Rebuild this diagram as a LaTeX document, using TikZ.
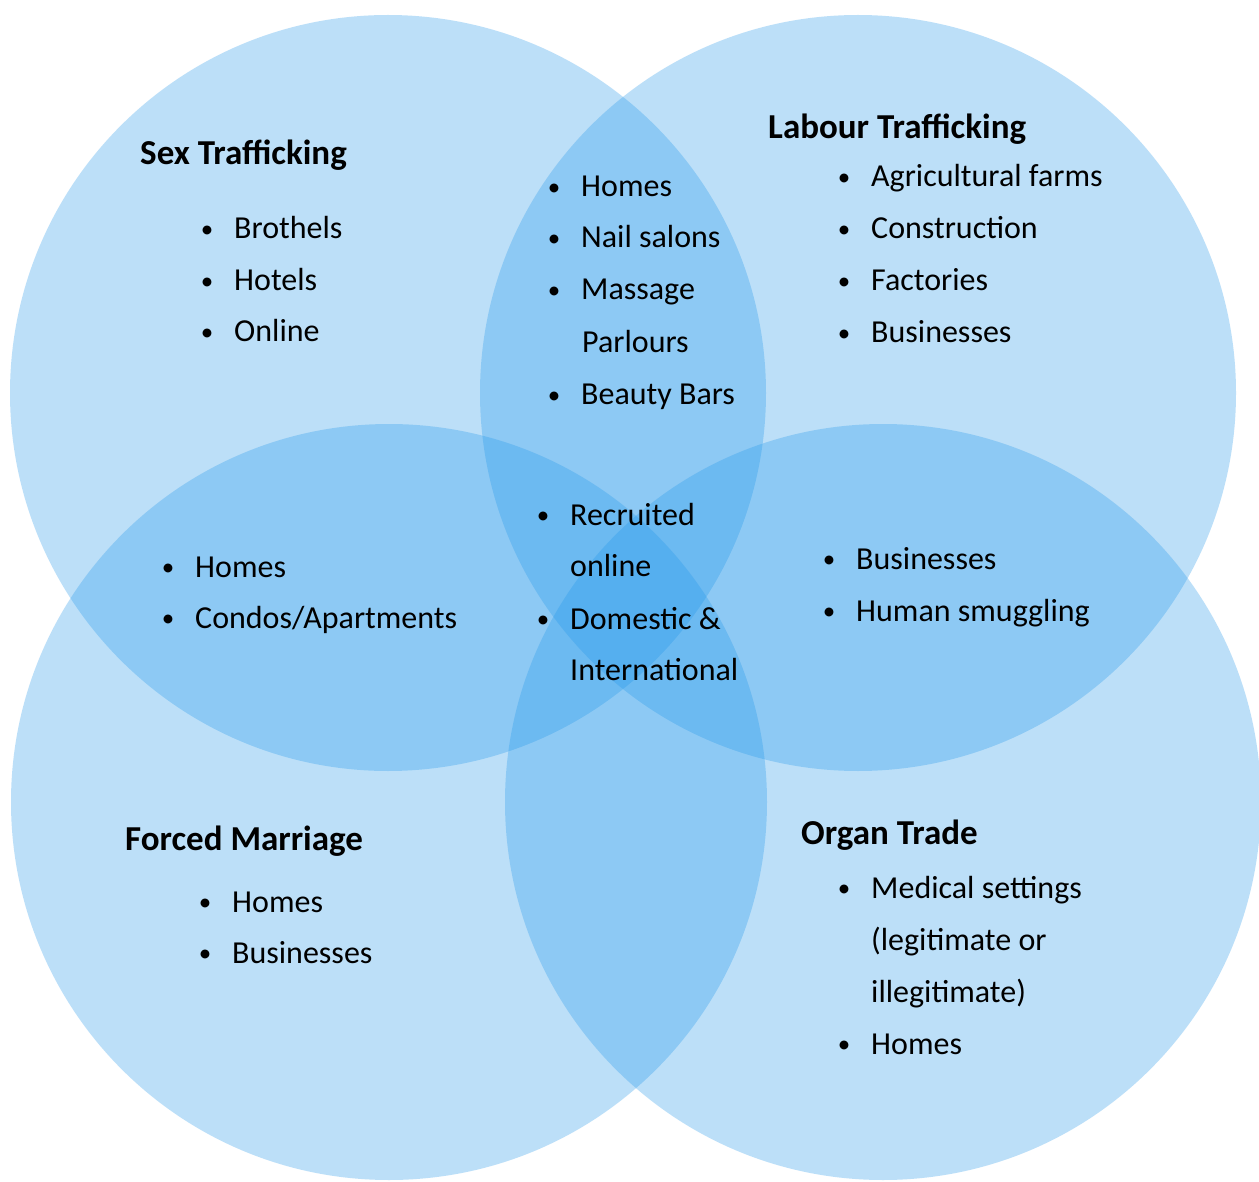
\documentclass[tikz,border=0pt]{standalone}
\usepackage{fontspec}
\setmainfont{Carlito}
\definecolor{vennblue}{RGB}{35,152,235}
% bullet centred 27pt to the left of the item text
\newcommand{\itemdot}{\llap{\makebox[0pt]{\fontsize{25}{30}\selectfont\raisebox{1.5pt}{•}}\hspace{27pt}}}
\begin{document}
\begin{tikzpicture}[x=1pt,y=-1pt,
  set/.style={fill=vennblue, fill opacity=0.3, draw=none},
  head/.style={anchor=base west, inner sep=0pt, font=\fontsize{35}{42}\selectfont\bfseries},
  entry/.style={anchor=base west, inner sep=0pt, font=\fontsize{32}{38}\selectfont},
]
\fill[white] (0,0) rectangle (1259,1182);
\useasboundingbox (0,0) rectangle (1259,1182);

% the four sets
\fill[set] (388,393) circle[radius=378pt];
\fill[set] (858,393) circle[radius=378pt];
\fill[set] (389,802) circle[radius=378pt];
\fill[set] (883,802) circle[radius=378pt];

% Sex Trafficking
\node[head]  (sexT)  at (140,165) {Sex Trafficking};
\node[entry] (sex1)  at (234,239) {\itemdot Brothels};
\node[entry] (sex2)  at (234,291) {\itemdot Hotels};
\node[entry] (sex3)  at (234,342) {\itemdot Online};

% Sex and Labour
\node[entry] (sl1)   at (581,197) {\itemdot Homes};
\node[entry] (sl2)   at (581,248) {\itemdot Nail salons};
\node[entry] (sl3)   at (581,300) {\itemdot Massage};
\node[entry] (sl3b)  at (582,353) {Parlours};
\node[entry] (sl4)   at (581,405) {\itemdot Beauty Bars};

% Labour Trafficking
\node[head]  (labT)  at (768,139) {Labour Trafficking};
\node[entry] (lab1)  at (871,187) {\itemdot Agricultural farms};
\node[entry] (lab2)  at (871,239) {\itemdot Construction};
\node[entry] (lab3)  at (871,291) {\itemdot Factories};
\node[entry] (lab4)  at (871,343) {\itemdot Businesses};

% Sex and Forced Marriage
\node[entry] (sf1)   at (195,577) {\itemdot Homes};
\node[entry] (sf2)   at (195,628) {\itemdot Condos/Apartments};

% all four
\node[entry] (all1)  at (570,525) {\itemdot Recruited};
\node[entry] (all1b) at (570,576) {online};
\node[entry] (all2)  at (570,629) {\itemdot Domestic \&};
\node[entry] (all2b) at (570,680) {International};

% Labour and Organ Trade
\node[entry] (lo1)   at (856,569) {\itemdot Businesses};
\node[entry] (lo2)   at (856,621) {\itemdot Human smuggling};

% Forced Marriage
\node[head]  (fmT)   at (125,850) {Forced Marriage};
\node[entry] (fm1)   at (232,912) {\itemdot Homes};
\node[entry] (fm2)   at (232,963) {\itemdot Businesses};

% Organ Trade
\node[head]  (orgT)  at (801,844) {Organ Trade};
\node[entry] (org1)  at (871,898) {\itemdot Medical settings};
\node[entry] (org1b) at (871,950) {(legitimate or};
\node[entry] (org1c) at (871,1002) {illegitimate)};
\node[entry] (org2)  at (871,1054) {\itemdot Homes};
\end{tikzpicture}
\end{document}
